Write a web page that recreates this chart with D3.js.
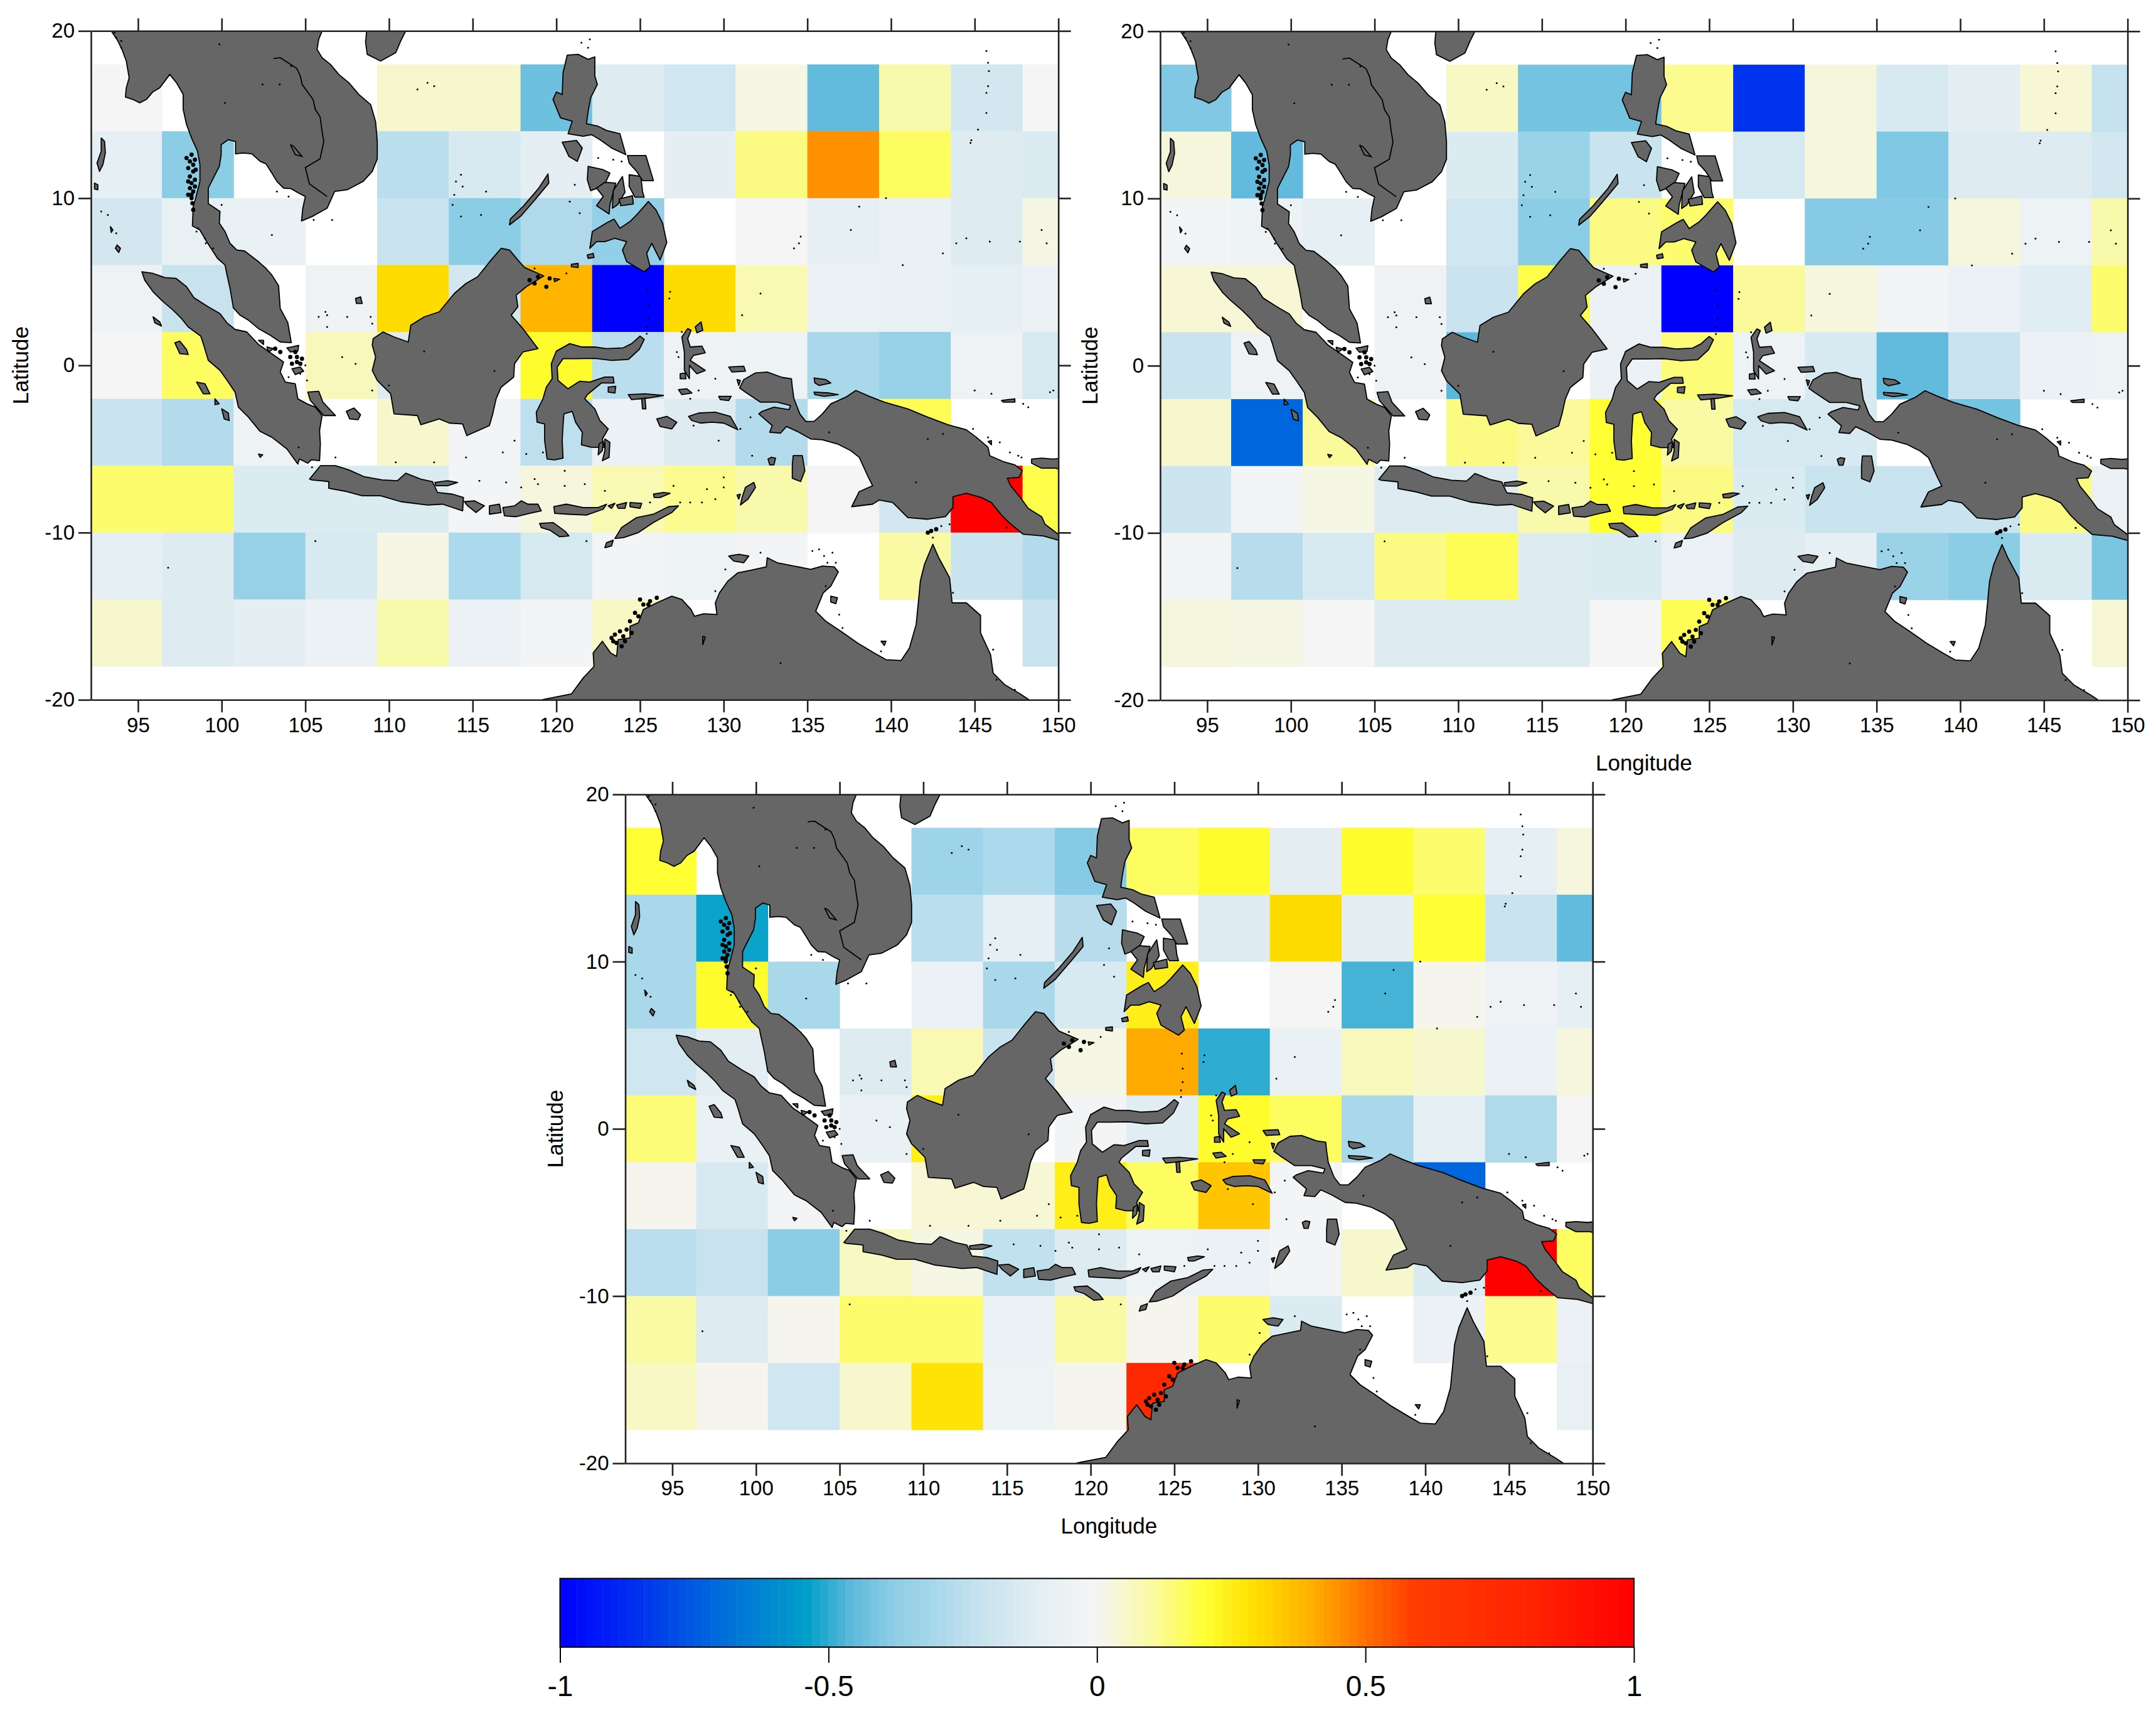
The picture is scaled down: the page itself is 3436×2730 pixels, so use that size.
<!DOCTYPE html>
<html>
<head>
<meta charset="utf-8">
<script src="https://cdn.jsdelivr.net/npm/d3@7"></script>
<style>
  body { margin: 0; background: #fff; }
  text { font-family: "Liberation Sans", Arial, sans-serif; fill: #000; }
</style>
</head>
<body>
<div id="chart"></div>
<script>
const lonEdges = [92.14, 96.43, 100.71, 105, 109.29, 113.57, 117.86, 122.14, 126.43, 130.71, 135, 139.29, 143.57, 147.86, 152.14];
const latEdges = [18, 14, 10, 6, 2, -2, -6, -10, -14, -18];

const lonTicks = [95, 100, 105, 110, 115, 120, 125, 130, 135, 140, 145, 150];
const latTicks = [20, 10, 0, -10, -20];
const colorTicks = [-1, -0.5, 0, 0.5, 1];

const colorStops = [-1, -0.85, -0.72, -0.54, -0.46, -0.38, -0.22, -0.11, 0, 0.105, 0.2, 0.29, 0.4, 0.5, 0.59, 0.83, 1];
const colorValues = ["#0000ff", "#0033ee", "#0066dd", "#00a0c8", "#5cb8da", "#8ccde6", "#c5e2ee", "#e3eef3", "#f5f5f5", "#fafaa0", "#ffff33", "#ffe000", "#ffb000", "#ff7000", "#ff3c00", "#ff2000", "#ff0000"];

// rows run north to south, null = no data (white)
const panelA = [
  [0, null, null, null, .05, .05, -.43, -.13, -.18, .02, -.45, .09, -.17, 0],
  [-.09, -.38, null, null, -.25, -.15, -.1, null, -.1, .13, .45, .16, -.13, -.14],
  [-.17, -.08, -.07, null, -.2, -.38, -.28, -.36, null, 0, -.09, -.07, -.13, .02],
  [-.04, -.21, null, -.03, .3, -.17, .39, -1, .3, .08, -.06, -.07, -.09, -.06],
  [0, .16, null, .07, -.13, null, .21, -.25, -.04, -.05, -.3, -.35, -.04, -.16],
  [-.2, -.27, -.05, null, .05, -.02, -.24, -.06, -.13, -.27, null, .17, null, null],
  [.15, .15, -.14, -.14, -.14, -.02, .03, .08, .12, .09, 0, -.17, 1, .18],
  [-.09, -.13, -.35, -.15, .02, -.29, -.16, -.02, -.05, -.01, null, .1, -.2, -.27],
  [.05, -.13, -.1, -.06, .09, -.06, -.02, .06, null, null, null, null, null, -.2]
];
const panelB = [
  [-.4, null, null, null, .06, -.42, -.42, .12, -.85, .03, -.15, -.1, .04, -.22],
  [.03, -.45, null, null, -.14, -.34, -.2, null, -.16, .03, -.4, -.13, -.13, -.17],
  [-.01, -.05, -.09, null, -.18, -.38, .13, .15, null, -.39, -.39, .03, -.05, .09],
  [.04, .04, null, -.04, -.2, .18, -.06, -1, .11, .03, -.01, -.06, -.12, .15],
  [-.2, -.04, null, -.04, -.46, null, -.06, .14, -.05, -.15, -.45, -.2, -.06, -.05],
  [.05, -.72, .11, null, .13, .11, .2, .1, -.16, -.15, null, -.42, null, null],
  [-.19, -.01, .02, -.13, -.13, .09, .2, .13, -.14, -.2, -.2, -.2, .13, -.06],
  [-.01, -.26, -.15, .13, .17, -.13, -.14, -.06, -.13, -.09, -.34, -.38, -.14, -.41],
  [.03, .02, 0, -.13, -.13, -.13, 0, .17, null, null, null, null, null, .04]
];
const panelC = [
  [.2, null, null, null, -.33, -.29, -.39, .16, .21, -.1, .21, .15, -.09, .03],
  [-.3, -.53, null, null, -.25, -.09, -.26, null, -.13, .3, -.1, .2, -.2, -.45],
  [-.3, .21, -.3, null, -.06, -.3, -.15, .25, null, 0, -.48, .01, -.04, -.09],
  [-.18, -.11, null, -.13, .08, -.2, .02, .41, -.5, -.07, .07, .05, -.06, .03],
  [.14, -.07, null, -.07, .25, null, -.01, -.12, .21, .16, -.3, -.09, -.28, 0],
  [.01, -.15, -.01, null, .04, .04, .25, .16, .35, -.01, null, -.72, null, null],
  [-.25, -.21, -.38, .06, .02, -.23, -.13, -.05, -.06, -.02, .05, -.14, 1, .16],
  [.1, -.13, .01, .15, .15, -.06, .1, .01, .15, -.14, null, -.06, .12, -.06],
  [.06, .01, -.18, .05, .28, -.05, .01, .75, null, null, null, null, null, -.08]
];

// coastlines, [lon, lat]
const landShapes = [
  // mainland south-east Asia and Malay peninsula
  [[93.3,20.6],[93.4,20],[93.8,19.4],[94.05,18.87],[94.3,18.2],[94.47,17.2],[94.3,16.6],[94.25,16.05],[94.7,15.9],[95.1,15.7],[95.5,15.9],[95.88,16.35],[96.3,16.6],[96.9,17.4],[97.3,16.9],[97.7,16.2],[97.7,15.3],[97.9,14.4],[98.2,13.6],[98.56,12.8],[98.7,12],[98.7,11],[98.5,10.2],[98.3,9.5],[98.25,8.34],[98.7,8.1],[99.1,7.4],[99.75,6.4],[100.2,6],[100.3,5.5],[100.5,4.6],[100.7,3.44],[101.1,3],[101.6,2.7],[102.2,2.2],[102.9,1.8],[103.5,1.4],[104.16,1.36],[104.05,2],[103.95,2.56],[103.5,3.4],[103.4,4.77],[103,5.4],[102.65,5.8],[102.2,6.2],[101.37,6.84],[100.9,6.9],[100.5,7.3],[100.2,8],[99.86,8.5],[99.9,9.2],[99.2,9.67],[99.2,10.6],[99.5,11.2],[99.86,11.9],[99.97,12.6],[99.97,13.2],[100.4,13.5],[100.83,13.38],[100.83,12.65],[101.3,12.7],[101.8,12.65],[102.3,12.2],[102.65,12.05],[103,11.5],[103.3,11],[103.7,10.6],[104.15,10.57],[104.6,10.3],[105,10.1],[104.85,9.4],[104.77,8.64],[105.4,8.9],[106.3,9.4],[106.75,10.4],[107.5,10.5],[108.45,11],[109,11.6],[109.3,12.35],[109.3,13.4],[109.2,14.57],[108.9,15.6],[108.2,16.2],[107.6,16.9],[107,17.4],[106.5,18],[106,18.4],[105.7,18.9],[105.8,19.5],[106,20],[106.5,20.6]],
  // Hainan
  [[108.7,20.4],[108.6,19.3],[108.7,18.6],[109.5,18.2],[110.4,18.7],[110.7,19.4],[111,20],[111,20.6]],
  // Sumatra
  [[95.23,5.6],[95.9,5.5],[96.6,5.25],[97.28,5.2],[97.9,4.7],[98.35,4.04],[99.2,3.5],[99.9,3.1],[100.3,2.56],[100.8,2.15],[101.5,2],[102.2,1.25],[103,0.7],[103.7,0.2],[103.5,-0.4],[103.8,-1],[104.4,-1.1],[104.55,-2],[105.1,-2.3],[105.6,-2.5],[106,-3],[105.85,-3.9],[105.9,-4.7],[105.85,-5.7],[105.35,-5.65],[105.15,-5.85],[104.65,-5.6],[104.55,-5.9],[103.9,-5],[103,-4.3],[102.3,-3.95],[101.6,-3.1],[101,-2.5],[100.8,-1.6],[100.4,-1],[99.9,-0.3],[99.2,0.3],[98.9,1.3],[98.75,1.75],[98,2.3],[97.6,2.8],[97.1,3.3],[96.4,3.9],[95.9,4.4],[95.4,5.1]],
  // Borneo
  [[109.05,1.6],[109.65,2],[110.3,1.7],[111.15,1.4],[111.3,2.4],[112.1,2.9],[113,3.2],[113.9,4.3],[114.6,4.9],[115.3,5.3],[116.1,6.3],[116.7,7],[117.2,6.9],[117.7,6.3],[118.1,5.85],[119.25,5.35],[118.2,4.7],[117.6,4.2],[117.7,3.5],[117.3,3],[118,2.2],[118.9,1],[118,0.8],[117.5,0.1],[117.45,-0.7],[116.7,-1.3],[116.4,-2],[116.2,-2.9],[116,-3.6],[114.65,-4.2],[114.4,-3.5],[113.6,-3.45],[113,-3.2],[111.9,-3.55],[111.7,-3],[110.3,-2.9],[110.1,-1.7],[109.3,-0.9],[109,-0.3],[109.2,0.5],[109,1.2]],
  // Java, Madura
  [[105.25,-6.8],[105.9,-6],[106.8,-6],[107.6,-6.25],[108.5,-6.65],[109.6,-6.85],[110.5,-6.9],[111,-6.45],[111.9,-6.8],[112.6,-6.95],[112.9,-7.6],[113.8,-7.7],[114.45,-7.9],[114.4,-8.7],[113.2,-8.3],[112.3,-8.35],[110.7,-8.15],[109.5,-7.8],[108.4,-7.8],[107.5,-7.55],[106.4,-7.35],[106.4,-6.95],[105.4,-6.85]],
  [[112.75,-7],[113.5,-6.9],[114.1,-7],[113.5,-7.2],[112.8,-7.2]],
  // Bali to Flores, Sumba, Timor
  [[114.5,-8.15],[115.1,-8.1],[115.7,-8.4],[115.2,-8.8],[114.7,-8.4]],
  [[116,-8.4],[116.6,-8.3],[116.7,-8.8],[116,-8.9]],
  [[116.8,-8.5],[117.5,-8.4],[117.9,-8.1],[118.3,-8.3],[118.9,-8.3],[119.1,-8.7],[118.4,-8.85],[117.6,-9.05],[116.9,-9]],
  [[119.85,-8.45],[120.6,-8.3],[121.6,-8.5],[122.5,-8.5],[123,-8.3],[122.8,-8.6],[121.8,-8.95],[120.7,-8.9],[119.9,-8.85]],
  [[123.1,-8.4],[123.5,-8.25],[123.3,-8.55]], [[123.6,-8.35],[124.2,-8.2],[124.1,-8.55],[123.7,-8.55]], [[124.4,-8.2],[125.1,-8.25],[125,-8.55],[124.4,-8.45]],
  [[119,-9.45],[119.8,-9.4],[120.5,-9.9],[120.75,-10.2],[120.2,-10.25],[119.6,-9.85],[119.1,-9.7]],
  [[123.5,-10.35],[123.9,-9.7],[124.8,-9.1],[125.8,-8.9],[126.7,-8.45],[127.3,-8.4],[126.9,-8.8],[125.8,-9.4],[124.9,-10],[124,-10.3]],
  [[123,-10.6],[123.4,-10.45],[123.3,-10.8],[122.9,-10.9]],
  [[125.8,-7.7],[126.4,-7.6],[126.8,-7.65],[126.2,-7.9],[125.85,-7.9]],
  [[127.9,-3.05],[128.5,-2.85],[129.5,-2.8],[130.4,-3.05],[130.85,-3.85],[130,-3.45],[129.3,-3.4],[128.6,-3.45],[128.1,-3.3]],
  [[126,-3.2],[126.6,-3.05],[127.2,-3.4],[126.9,-3.8],[126.2,-3.65]],
  [[124.3,-1.75],[125.3,-1.7],[126.4,-1.8],[125.5,-1.95],[124.5,-2.05]],
  [[125.1,-2],[125.3,-1.95],[125.35,-2.6],[125.15,-2.6]],
  [[127.3,-1.45],[127.8,-1.4],[128.1,-1.65],[127.5,-1.75]],
  // Sulawesi
  [[119.45,-5.6],[119.3,-4.5],[119.3,-3.5],[118.85,-3.4],[118.8,-2.8],[119.2,-2],[119.4,-1.3],[119.75,-0.8],[119.7,0.1],[120,0.85],[120.8,1.3],[121.5,1.1],[122.3,1.1],[123,1],[124,1.05],[124.5,1.3],[125,1.75],[125.25,1.55],[124.95,0.95],[124.3,0.35],[123.3,0.3],[122.3,0.42],[121.2,0.4],[120.4,0.4],[120.05,-0.1],[120.1,-0.9],[120.7,-1.4],[121.4,-0.95],[122,-1],[122.9,-0.7],[123.4,-0.7],[123.45,-1.05],[122.7,-1.05],[121.85,-1.75],[121.7,-2],[122.3,-2.6],[122.6,-3.3],[123.1,-3.8],[122.75,-4.4],[122.9,-4.9],[122.1,-4.9],[121.5,-4.75],[121.55,-4],[121.15,-3.4],[120.95,-2.75],[120.45,-2.9],[120.4,-3.6],[120.35,-4.5],[120.4,-5.55],[119.9,-5.65]],
  [[122.55,-4.7],[122.8,-4.55],[122.75,-5.1],[122.5,-5.35]], [[122.9,-4.4],[123.2,-4.6],[123.15,-5.5],[122.75,-5.7],[122.9,-5.1]],
  [[123.1,-1.3],[123.55,-1.25],[123.5,-1.65],[123.1,-1.6]],
  // Philippines
  [[120.65,18.55],[121.3,18.6],[121.9,18.3],[122.3,18.45],[122.3,17.3],[122.45,16.8],[122.05,16],[121.9,15.2],[121.8,14.45],[122.5,14.3],[123,14.05],[123.8,13.85],[124.15,12.6],[123.3,13],[122.6,13.5],[122.1,13.8],[121.6,13.7],[120.7,13.85],[120.95,14.6],[120.25,14.8],[119.8,15.9],[120,16.35],[120.35,16.2],[120.4,17.5]],
  [[120.35,13.35],[121.2,13.45],[121.55,13],[121.25,12.2],[120.75,12.5]],
  [[117.2,8.4],[117.9,8.95],[118.8,10],[119.55,10.9],[119.5,11.45],[118.95,10.6],[118.05,9.55],[117.25,8.75]],
  [[121.9,11.9],[122.8,11.7],[123.2,11.5],[122.85,10.75],[122.05,10.45],[121.85,11.1]],
  [[122.4,10.6],[122.9,10.95],[123.55,10.9],[123.2,9.6],[123.15,9.05],[122.4,9.55],[122.8,10.1]],
  [[123.4,10.45],[123.95,11.3],[124.1,10.35],[123.65,9.6],[123.35,9.4]],
  [[123.75,9.95],[124.55,10.15],[124.6,9.65],[123.85,9.55]],
  [[124.35,11.4],[125.05,11.3],[125.15,10.4],[125.25,10.05],[124.7,10.05],[124.35,10.7]],
  [[124.25,12.55],[125.35,12.55],[125.8,11.05],[125.15,11.05],[124.8,11.6],[124.35,12.1]],
  [[122,7],[122.15,8],[123.05,8.55],[123.45,8.75],[123.8,8.2],[124.4,8.6],[124.8,9],[125.5,9.8],[125.95,9.3],[126.35,8.5],[126.6,7.35],[126.2,6.3],[125.7,7.3],[125.4,6.7],[125.6,5.9],[125.25,5.6],[124.2,6.2],[123.95,6.9],[124.2,7.4],[123.5,7.6],[122.9,7.4],[122.4,7.4]],
  [[121.85,6.6],[122.2,6.7],[122.25,6.45],[121.9,6.4]], [[120.9,6.05],[121.3,6.1],[121.3,5.85],[120.9,5.9]], [[119.85,5.2],[120.2,5.15],[119.9,5]],
  // Andaman, Nicobar, west Sumatra islands
  [[92.8,13.6],[93,13.4],[93.05,12.7],[92.9,12],[92.7,11.6],[92.55,12.1],[92.8,12.8]], [[92.4,10.9],[92.6,10.8],[92.6,10.5],[92.4,10.55]],
  [[93.75,7.2],[93.95,7],[93.85,6.75],[93.65,7]],[[93.35,8.3],[93.5,8.1],[93.4,7.95]],
  [[95.9,2.9],[96.3,2.6],[96.4,2.35],[96,2.55]],[[97.2,1.35],[97.5,1.45],[97.9,0.95],[98.0,0.65],[97.5,0.7]],
  [[98.5,-1],[99,-1.1],[99.3,-1.7],[98.9,-1.7]], [[99.6,-2],[99.85,-2.3],[99.6,-2.35]], [[100,-2.6],[100.4,-2.85],[100.45,-3.3],[100.15,-3.2]],
  [[102.2,-5.3],[102.45,-5.35],[102.3,-5.5]],
  // Bangka, Belitung, Riau
  [[105.15,-1.6],[105.8,-1.55],[106.05,-2.2],[106.8,-3],[106.1,-3],[105.75,-2.6],[105.3,-2.1]],
  [[107.45,-2.75],[107.9,-2.55],[108.3,-2.95],[108.15,-3.25],[107.65,-3.2]],
  [[104.2,-0.2],[104.7,-0.1],[104.9,-0.35],[104.4,-0.55]], [[102.2,1.5],[102.5,1.5],[102.5,1.25]], [[102.7,1.1],[103.1,1],[102.8,0.8]], [[103.9,1.05],[104.2,1.1],[104.6,1.2],[104.55,0.85],[104.1,0.8]],
  [[108,4],[108.3,4.1],[108.4,3.7],[108.05,3.7]],
  // Halmahera and Maluku
  [[127.85,2.2],[128.05,2.1],[127.85,1.6],[128,1.1],[128.7,1.15],[128.9,0.75],[128.2,0.6],[128,0.3],[128.9,-0.3],[128.4,-0.5],[127.95,0],[127.95,-0.8],[127.65,-0.3],[127.65,0.8],[127.5,1.7]],
  [[128.3,2.3],[128.65,2.6],[128.75,2.1],[128.4,1.95]],
  [[127.4,-0.5],[127.7,-0.45],[127.75,-0.8],[127.4,-0.8]],
  [[130.3,-0.1],[131.2,-0.05],[131.3,-0.35],[130.5,-0.4]], [[129.7,-1.85],[130.45,-1.85],[130.3,-2.1],[129.8,-2.05]],
  [[130.8,-0.85],[131,-0.9],[130.9,-1.2]],
  [[135.4,-0.75],[136.1,-0.85],[136.4,-1.05],[135.7,-1.2],[135.45,-1.05]],
  [[135.4,-1.6],[136.3,-1.65],[136.85,-1.75],[136,-1.85],[135.45,-1.75]],
  [[134.15,-5.4],[134.7,-5.4],[134.85,-6.3],[134.6,-6.95],[134.1,-6.75],[134.1,-6]],
  [[131.8,-7],[131.9,-7.3],[131.45,-8],[131,-8.35],[131.1,-7.9],[131.3,-7.3]],
  [[132.65,-5.6],[132.85,-5.5],[133.1,-5.55],[133,-5.95],[132.75,-5.95]],
  [[130.8,-7.75],[131,-7.7],[130.9,-8]],
  // New Guinea
  [[130.95,-1.35],[131.2,-0.85],[131.9,-0.45],[132.6,-0.4],[133.5,-0.72],[134.05,-0.8],[134.1,-1.3],[134.2,-2],[134.55,-2.9],[134.9,-3.35],[135.4,-3.35],[135.9,-2.9],[136.4,-2.3],[137.3,-1.9],[137.9,-1.5],[138.7,-1.85],[139.6,-2.2],[141,-2.6],[142.2,-3.1],[143.4,-3.55],[144.5,-3.85],[145.1,-4.3],[145.8,-4.9],[145.9,-5.4],[146.7,-5.75],[147.4,-5.95],[147.85,-6.3],[147.65,-6.7],[146.95,-6.75],[147.15,-7.2],[147.8,-8],[148.2,-8.55],[149,-9.05],[149.2,-9.5],[150,-10.1],[150.9,-10.3],[151,-10.7],[150,-10.45],[149.1,-10.2],[147.9,-10.1],[147.05,-9.4],[146.6,-8.95],[146,-8.2],[145.4,-7.9],[144.5,-7.65],[143.7,-7.85],[143.7,-8.5],[143.25,-9.05],[142.2,-9.2],[141,-9.1],[140.1,-8.2],[139.3,-8.05],[138.9,-8.3],[137.65,-8.45],[138.1,-7.55],[138.9,-7.2],[138.65,-6.7],[138.1,-5.5],[137.6,-5.1],[136.8,-4.7],[135.9,-4.45],[135.2,-4.4],[134.4,-3.95],[133.75,-3.65],[133.4,-4.05],[132.75,-4],[132.9,-3.6],[132.1,-2.9],[132.3,-2.75],[133,-2.5],[133.9,-2.65],[134,-2.4],[133.2,-2.2],[132.2,-2.2],[131.3,-1.6]],
  [[148.4,-5.6],[149,-5.55],[149.7,-5.6],[150.6,-5.5],[150.6,-6.3],[149.8,-6.15],[149,-6.15],[148.4,-5.85]],
  [[146.6,-2.1],[147.4,-2.0],[147.4,-2.2],[146.7,-2.2]],
  [[145.8,-4.55],[146,-4.5],[146,-4.75]],
  // Australia
  [[118.5,-20.6],[119.2,-19.98],[120.9,-19.65],[121.6,-18.7],[122.25,-18],[122.2,-17.2],[122.75,-16.5],[123.25,-17.2],[123.6,-17.4],[123.7,-16.4],[124.4,-16.3],[124.4,-15.6],[124.9,-15.4],[125.2,-14.6],[126,-14.2],[126.9,-13.8],[127.5,-14],[128.05,-14.6],[128.25,-15],[128.8,-14.85],[129.6,-14.9],[129.5,-14.2],[129.75,-13.6],[130.25,-12.9],[130.85,-12.4],[131.6,-12.25],[132.55,-12.05],[132.6,-11.5],[133.2,-11.8],[134.2,-12],[135.2,-12.2],[135.9,-12],[136.6,-12.05],[136.85,-12.35],[136.4,-13.2],[135.95,-13.6],[135.5,-14.7],[136.1,-15.3],[137,-15.9],[138,-16.6],[139,-17.2],[139.7,-17.6],[140.6,-17.65],[141.1,-16.9],[141.5,-15.5],[141.65,-14],[141.75,-12.9],[142,-11.9],[142.5,-10.7],[142.85,-11.5],[143.5,-12.7],[143.65,-14.2],[144.5,-14.2],[145.35,-14.95],[145.35,-16],[145.95,-17.3],[146.1,-18.4],[146.8,-19.1],[147.8,-19.7],[148.4,-20.1],[148.9,-20.6]],
  [[130.3,-11.4],[130.9,-11.3],[131.5,-11.4],[131.2,-11.8],[130.6,-11.7]],
  [[136.4,-13.8],[136.8,-13.9],[136.7,-14.25],[136.4,-14.15]],
  [[139.4,-16.5],[139.7,-16.5],[139.6,-16.75]],
  [[128.75,-16.2],[128.9,-16.25],[128.75,-16.7]]
];

const borderLines = [
  [[103.09,18.35],[103.5,18.4],[104.49,17.76],[104.7,17.3],[104.81,16.8],[105.46,15.9],[105.6,15.3],[105.88,14.87],[106,14],[106.1,13.38],[105.88,12.35],[105,11.83],[105.24,10.86],[106.3,10.1]],
  [[104.1,13.2],[104.4,12.6],[104.8,12.5],[104.3,13.1],[104.1,13.2]]
];

// dense clumps of islands: Mergui, Riau, Sulu, Kimberley coast
const islandClusters = [
  [98.2,12.6],[98.1,12.2],[98.3,12],[98,11.8],[98.3,11.6],[98.1,11.3],[98.4,11.1],[98.2,10.9],[98.1,10.6],[98.3,10.4],[98,10.2],[98.2,10],[97.9,12.4],[98.4,12.3],[98,11],[98.4,10.7],[98.2,10.2],[98.45,11.7],[98.25,9.7],[98.3,9.3],
  [104.1,0.5],[104.5,0.5],[104.5,0.2],[104.7,0.1],[104.2,0.1],[103.5,0.8],[103.2,1],[104.4,.8],[104.8,.4],
  [119.6,5.2],[118.7,4.9],[119.4,4.7],[118.4,5.1],[118.9,5.3],
  [125,-14],[125.2,-14.3],[124.9,-15],[125.5,-14.3],[126,-13.9],[124.4,-15.3],[124.2,-15.8],[124.5,-16],[123.5,-16.1],[123.8,-15.9],[123.3,-16.3],[123.6,-16.6],[124,-16.2],[125.6,-14.1],[124.7,-14.8],[123.9,-16.8],[123.4,-16.5],[124.1,-16.5],
  [142.2,-10],[142.4,-9.9],[142.7,-9.8]
];

const islets = [
  [98.5,8],[99,7.6],[99.5,7],[99.05,7.3],[98.6,8.2],[94,19.4],[94,19],[93.7,19.6],[93.6,19.9],
  [93.2,9],[92.8,9.2],[93.7,7.9],[100.0,9.6],[103,7.8],[104,10.1],[103.3,10.4],[105.5,8.7],[106.6,8.7],
  [106.2,3.2],[106.3,3],[105.8,2.9],[106.3,2.3],[107.5,2.9],[109,2.5],[108.9,2.9],[108,0.1],[107.2,.5],
  [104,-0.7],[105,0],[104.7,-.5],[105.1,-.9],[109,-1.5],[110,-1.2],
  [114.3,11.4],[114.4,10.7],[113.9,10.2],[115.8,10.4],[114,11],[113.8,9.6],[115.5,9],[114.3,8.9],
  [111.7,16.5],[112.3,16.9],[112.7,16.7],[121.9,19],[122,19.5],[121.5,19.3],[122.1,20],
  [123.4,12.3],[123.9,12.2],[122.5,12.4],[121.1,10.8],[121.4,9.1],[120.8,9.8],[120.6,5.5],[118.7,5.8],
  [134.6,7.7],[134.5,7.3],[134.2,7],[138.1,9.5],[139.7,10],[145.7,15.1],[145.2,14.1],[144.8,13.46],[144.75,13.3],[145.7,16.3],[145.8,16.7],[145.85,17.6],[145.8,18.1],[145.7,18.8],
  [147.7,7.4],[145.9,7.4],[143.9,7.3],[143.1,6.7],[144.5,7.6],[149.3,7.3],[149,8.1],[140.7,6],[137.6,8.1],[131.1,3],[132.2,4.3],
  [126.8,4.4],[126.75,4],[125.5,3.6],[125.5,2.8],[125.4,2.3],[125.45,4.5],[125.4,1.9],
  [127.5,2],[127.2,0.8],[127.3,0.5],[128,-2],[128.5,-1.5],[129.5,-.8],[131,-3.8],[131.6,-3.1],[129.7,-4.5],[128.2,-3.6],
  [127,-7.2],[128,-8.2],[128.7,-8.2],[129.5,-8],[130,-7.3],[130,-6.7],[131.7,-5.4],[129,-7.4],[127.4,-8.2],[125.6,-8.2],[121.8,-10.5],[122.9,-7.5],[121.7,-7.1],[120.5,-6.3],[118.9,-7.1],[117.9,-7.3],[117,-7],[115.4,-6.9],[114.6,-5.5],[116.8,-5.2],[117.5,-4.5],[118.2,-5.3],[119.2,-5.2],[118.7,-6.8],[120.5,-7.2],
  [112.7,-5.8],[110.4,-5.8],[105.6,-10.5],[96.8,-12.1],[105.4,-6.1],[104.6,-4.9],[106.8,-5.5],
  [135.3,-11.1],[135.7,-11],[136,-11.4],[136.5,-11.2],[136.7,-11.8],[136.2,-11.8],[132.2,-11.2],[130.1,-12.2],[129.5,-13.5],[136.1,-13.2],[136.9,-14.9],[137.1,-15.7],[139.4,-17.1],
  [142.5,-10.3],[143,-9.6],[143.5,-9.5],[143.7,-13.6],[146.3,-18.8],[147.4,-19.4],[146.1,-17],
  [147.1,-5.2],[147.8,-5.5],[147.6,-5.4],[146.5,-4.6],[145.8,-4.3],[144.9,-3.8],[147.9,-2.3],[148.2,-2.5],[146,-1.7],[145,-1.5],[149.7,-1.5],[146.9,-9.7],[149.5,-1.6],
  [102.44,16.8],[103.47,16.8],[100.2,15.7],[99.86,19.2],[104.15,17.9],[112.1,.84],[116.3,-.33],[141.5,-7],[136.3,-4],[142.2,-4.4],[143.1,-4.1],[133.4,-17.8]
];

const barSteps = 128;
const panels = [
  { left: 145, top: 49.3, values: panelA, lonLabel: false },
  { left: 1849, top: 49.8, values: panelB, lonLabel: true },
  { left: 996.5, top: 1266, values: panelC, lonLabel: true }
];
const plotWidth = 1541.7;
const plotHeight = 1066;

const color = d3.scaleLinear().domain(colorStops).range(colorValues).interpolate(d3.interpolateRgb);

const svg = d3.select("#chart").append("svg")
  .attr("width", 3436)
  .attr("height", 2730)
  .style("display", "block");

const x = d3.scaleLinear().domain([92.19, 150]).range([0, plotWidth]);
const y = d3.scaleLinear().domain([-20, 20]).range([plotHeight, 0]);
const landLine = d3.line().x(d => x(d[0])).y(d => y(d[1])).curve(d3.curveLinearClosed);
const borderLine = d3.line().x(d => x(d[0])).y(d => y(d[1]));

svg.append("defs").append("clipPath")
  .attr("id", "plot-clip")
  .append("rect")
  .attr("width", plotWidth)
  .attr("height", plotHeight);

function styleAxis(g) {
  g.selectAll("path, line").attr("stroke", "#222").attr("stroke-width", 2.6);
  g.selectAll("text").style("font-size", "33px").attr("fill", "#000");
}

panels.forEach(panel => {
  const g = svg.append("g").attr("transform", `translate(${panel.left},${panel.top})`);
  const map = g.append("g").attr("clip-path", "url(#plot-clip)");

  panel.values.forEach((row, r) => {
    row.forEach((v, c) => {
      if (v === null) return;
      map.append("rect")
        .attr("x", x(lonEdges[c]))
        .attr("y", y(latEdges[r]))
        .attr("width", x(lonEdges[c + 1]) - x(lonEdges[c]) + 0.5)
        .attr("height", y(latEdges[r + 1]) - y(latEdges[r]) + 0.5)
        .attr("fill", color(v));
    });
  });

  map.selectAll("path.land")
    .data(landShapes)
    .join("path")
    .attr("class", "land")
    .attr("d", landLine)
    .attr("fill", "#666666")
    .attr("stroke", "#000")
    .attr("stroke-width", 1.8)
    .attr("stroke-linejoin", "round");

  map.selectAll("path.border")
    .data(borderLines)
    .join("path")
    .attr("class", "border")
    .attr("d", borderLine)
    .attr("fill", "none")
    .attr("stroke", "#000")
    .attr("stroke-width", 1.8);

  map.selectAll("circle.islet")
    .data(islets)
    .join("circle")
    .attr("class", "islet")
    .attr("cx", d => x(d[0]))
    .attr("cy", d => y(d[1]))
    .attr("r", 1.5)
    .attr("fill", "#000");

  map.selectAll("circle.cluster")
    .data(islandClusters)
    .join("circle")
    .attr("class", "cluster")
    .attr("cx", d => x(d[0]))
    .attr("cy", d => y(d[1]))
    .attr("r", 3.4)
    .attr("fill", "#000");

  g.append("g")
    .attr("transform", `translate(0,${plotHeight})`)
    .call(d3.axisBottom(x).tickValues(lonTicks).tickSize(20).tickSizeOuter(0).tickPadding(8).tickFormat(d3.format("d")))
    .call(styleAxis);
  g.append("g")
    .call(d3.axisTop(x).tickValues(lonTicks).tickSize(20).tickSizeOuter(0).tickFormat(""))
    .call(styleAxis);
  g.append("g")
    .call(d3.axisLeft(y).tickValues(latTicks).tickSize(20).tickSizeOuter(0).tickPadding(6).tickFormat(d => String(d)))
    .call(styleAxis);
  g.append("g")
    .attr("transform", `translate(${plotWidth},0)`)
    .call(d3.axisRight(y).tickValues(latTicks).tickSize(20).tickSizeOuter(0).tickFormat(""))
    .call(styleAxis);

  g.append("text")
    .attr("transform", `translate(-112,${plotHeight / 2}) rotate(-90)`)
    .attr("text-anchor", "middle")
    .attr("dy", "0.35em")
    .style("font-size", "35px")
    .text("Latitude");

  if (panel.lonLabel) {
    g.append("text")
      .attr("x", plotWidth / 2)
      .attr("y", plotHeight + 112)
      .attr("text-anchor", "middle")
      .style("font-size", "35px")
      .text("Longitude");
  }
});

// colour bar
const barX = d3.scaleLinear().domain([-1, 1]).range([892.5, 2604]);
const barTop = 2515.6;
const barHeight = 109.4;
const barStep = 2 / barSteps;
const bar = svg.append("g");

bar.selectAll("rect")
  .data(d3.range(barSteps))
  .join("rect")
  .attr("x", i => barX(-1 + i * barStep))
  .attr("y", barTop)
  .attr("width", barX(barStep) - barX(0) + 0.5)
  .attr("height", barHeight)
  .attr("fill", i => color(-1 + (i + 0.5) * barStep));

bar.append("rect")
  .attr("x", barX(-1))
  .attr("y", barTop)
  .attr("width", barX(1) - barX(-1))
  .attr("height", barHeight)
  .attr("fill", "none")
  .attr("stroke", "#000")
  .attr("stroke-width", 2);

bar.append("g")
  .attr("transform", `translate(0,${barTop + barHeight})`)
  .call(d3.axisBottom(barX).tickValues(colorTicks).tickSize(25).tickSizeOuter(0).tickPadding(20).tickFormat(d => String(d)))
  .call(g => {
    g.select(".domain").remove();
    g.selectAll("line").attr("stroke", "#000").attr("stroke-width", 2);
    g.selectAll("text").style("font-size", "46px").attr("fill", "#000");
  });
</script>
</body>
</html>
